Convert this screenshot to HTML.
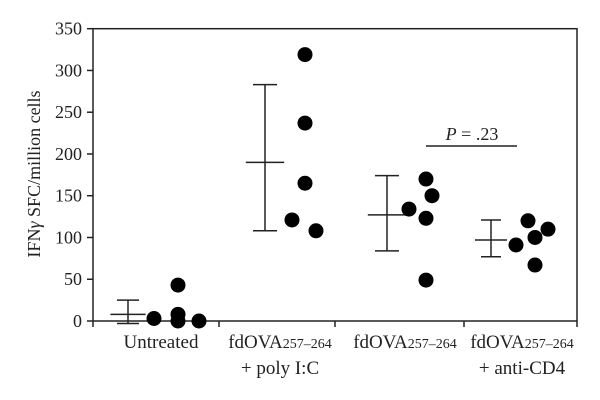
<!DOCTYPE html>
<html><head><meta charset="utf-8"><style>
body{margin:0;background:#fff}
svg{display:block;font-family:"Liberation Serif",serif}
</style></head><body>
<svg id="chart" width="600" height="400">
<rect x="93" y="28.7" width="484" height="292.3" fill="none" stroke="#222" stroke-width="1.5"/>
<text transform="translate(40,174) rotate(-90)" text-anchor="middle" font-size="18" fill="#222">IFN<tspan font-style="italic">γ</tspan> SFC/million cells</text>
<text x="472" y="140" text-anchor="middle" font-size="18" fill="#222"><tspan font-style="italic">P</tspan> = .23</text>
<line x1="426" y1="146" x2="517" y2="146" stroke="#222" stroke-width="1.5"/>
<g id="g"></g>
</svg>
<script>
const yTicks=[0,50,100,150,200,250,300,350];
const groups=["Untreated","fdOVA","fdOVA","fdOVA"];
const meanVals=[8,190,127,97];
const upperVals=[25,283,174,121];
const lowerVals=[-3,108,84,77];
const pts0=[3,43,8,0,0];
const pts1=[319,237,165,121,108];
const pts2=[134,170,150,123,49];
const pts3=[91,120,100,110,67];
const ptOff0=[26,50,50,50,71];
const ptOff1=[40,40,40,27,51];
const ptOff2=[22,39,45,39,39];
const ptOff3=[25,37,44,57,44];
const ns="http://www.w3.org/2000/svg",g=document.getElementById('g');
const y=v=>321-v*(292.3/350);
const barX=[128,265,387,491],capW=[22,24,24,20];
function mk(t,a){const e=document.createElementNS(ns,t);for(const k in a)e.setAttribute(k,a[k]);g.appendChild(e);return e;}
yTicks.forEach(v=>{
 const l=mk('line',{x1:87,x2:93,y1:y(v),y2:y(v),stroke:'#222','stroke-width':1.5});
 
 
 const t=mk('text',{x:82,y:y(v)+6,'text-anchor':'end','font-size':18,fill:'#222'});t.textContent=v;
 
 
});
[93,219,335,464,577].forEach(x=>{
 const l=mk('line',{x1:x,x2:x,y1:321,y2:327,stroke:'#222','stroke-width':1.5});
 
 
});
const labels=[["Untreated",null],["fdOVA","+ poly I:C"],["fdOVA",null],["fdOVA","+ anti-CD4"]];
const cx=[161,280,405,522];
labels.forEach((L,i)=>{
 const t=mk('text',{x:cx[i],y:348,'text-anchor':'middle','font-size':19,fill:'#222'});
 
 
 if(i==0)t.textContent=L[0];else t.innerHTML='fdOVA<tspan font-size="14">257–264</tspan>';
 if(L[1]){const s=mk('text',{x:cx[i],y:374,'text-anchor':'middle','font-size':19,fill:'#222'});s.textContent=L[1];
 
 }
});
const pts=[pts0,pts1,pts2,pts3],offs=[ptOff0,ptOff1,ptOff2,ptOff3];
meanVals.forEach((m,i)=>{
 const x=barX[i],w=capW[i],st={stroke:'#222','stroke-width':1.5};
 const v=mk('line',Object.assign({x1:x,x2:x,y1:y(upperVals[i]),y2:y(lowerVals[i])},st));
 
 
 [upperVals[i],lowerVals[i]].forEach(val=>{const c=mk('line',Object.assign({x1:x-w/2,x2:x+w/2,y1:y(val),y2:y(val)},st));
 
 });
 const ml=mk('line',Object.assign({x1:x-w*0.8,x2:x+w*0.8,y1:y(m),y2:y(m)},st));
 
 
 pts[i].forEach((p,j)=>{
  const c=mk('circle',{cx:x+offs[i][j],cy:y(p),r:7.5,fill:'#000'});
  
  
 });
});
</script>
</body></html>
